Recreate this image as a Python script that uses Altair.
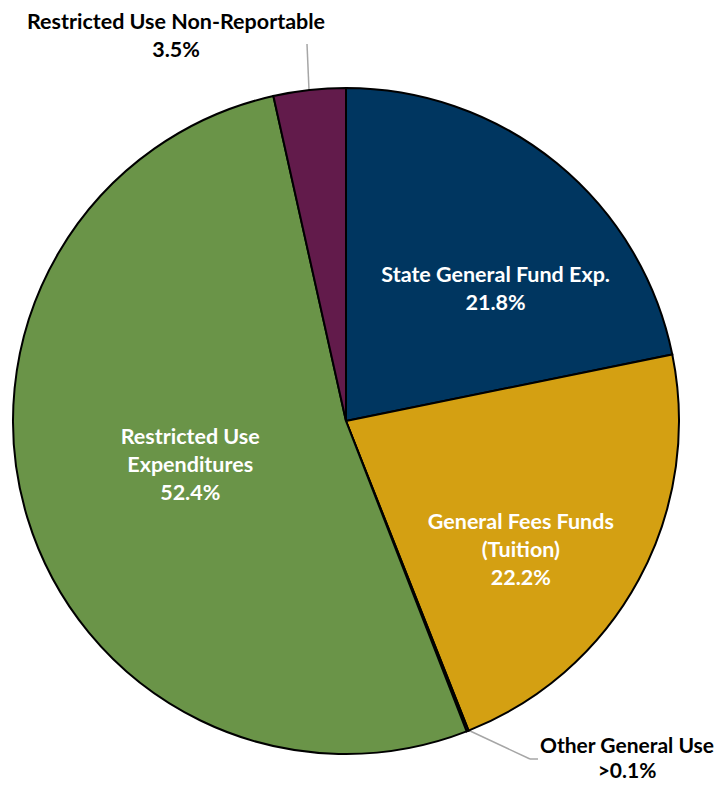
import altair as alt
import pandas as pd

categories = ["State General Fund Exp.", "General Fees Funds (Tuition)", "Other General Use",
              "Restricted Use Expenditures", "Restricted Use Non-Reportable"]
values = [21.8, 22.2, 0.1, 52.4, 3.5]
value_labels = ["21.8%", "22.2%", ">0.1%", "52.4%", "3.5%"]
colors = ["#003660", "#D4A012", "#A5A5A5", "#6A9448", "#621B4B"]

inner_a = ["State General Fund Exp.\n21.8%", "", "", "", ""]
inner_b = ["", "General Fees Funds\n(Tuition)\n22.2%", "", "", ""]
inner_c = ["", "", "", "Restricted Use\nExpenditures\n52.4%", ""]

df = pd.DataFrame({
    "cat": categories,
    "val": values,
    "order": list(range(len(categories))),
    "la": inner_a,
    "lb": inner_b,
    "lc": inner_c,
})

base = alt.Chart(df).encode(
    theta=alt.Theta("val:Q", stack=True),
    order=alt.Order("order:Q"),
)

pie = base.mark_arc(radius=333, stroke="black", strokeWidth=2).encode(
    color=alt.Color("cat:N", scale=alt.Scale(domain=categories, range=colors), legend=None)
)

font = "Lato"
fs = 21.5
lh = 28


def inner(field, dx, dy):
    return base.mark_text(radius=167, dx=dx, dy=dy, font=font, fontWeight="bold", fontSize=fs,
                          color="white", lineBreak="\n", lineHeight=lh,
                          align="center", baseline="middle").encode(text=f"{field}:N")


txt_a = inner("la", 44, -16)
txt_b = inner("lb", 28, 22)
txt_c = inner("lc", 4, -32)


def outer(t, x, y, lheight, size):
    return alt.Chart(pd.DataFrame({"t": [t]})).mark_text(
        font=font, fontWeight="bold", fontSize=size, color="black", lineBreak="\n",
        lineHeight=lheight, align="center", baseline="middle").encode(
        text="t:N", x=alt.value(x), y=alt.value(y))


out1 = outer(categories[4] + "\n" + value_labels[4], 168, -33, lh, fs)
out2 = outer(categories[2] + "\n" + value_labels[2], 619, 691, 25, 21)

lead1 = alt.Chart(pd.DataFrame({"a": [0]})).mark_rule(color="#A6A6A6", strokeWidth=1.5).encode(
    x=alt.value(299), y=alt.value(-12), x2=alt.value(301), y2=alt.value(34))
lead2a = alt.Chart(pd.DataFrame({"a": [0]})).mark_rule(color="#A6A6A6", strokeWidth=1.5).encode(
    x=alt.value(460), y=alt.value(674), x2=alt.value(522), y2=alt.value(703))
lead2b = alt.Chart(pd.DataFrame({"a": [0]})).mark_rule(color="#A6A6A6", strokeWidth=1.5).encode(
    x=alt.value(522), y=alt.value(703), x2=alt.value(530), y2=alt.value(703))

chart = alt.layer(lead1, lead2a, lead2b, pie, txt_a, txt_b, txt_c, out1, out2).properties(
    width=676, height=730,
    autosize=alt.AutoSizeParams(type="none"),
    padding={"left": 0, "top": 48, "right": 33, "bottom": 0},
).configure_view(stroke=None)

chart.save("out.html", embed_options={"renderer": "svg", "actions": False})
